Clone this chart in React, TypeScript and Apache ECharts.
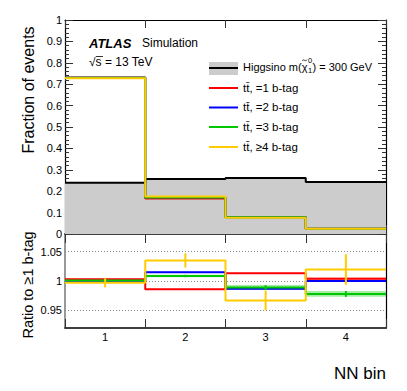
import React, { useEffect, useRef } from 'react';
import * as echarts from 'echarts';

// ---- data ----
const binEdges = [0, 1, 2, 3, 4];
const binLabels = ['1', '2', '3', '4'];
const higgsino = [0.240, 0.257, 0.262, 0.243];
const tt1 = [0.731, 0.166, 0.080, 0.025];
const tt2 = [0.730, 0.172, 0.078, 0.025];
const tt3 = [0.730, 0.171, 0.078, 0.024];
const tt4 = [0.728, 0.175, 0.076, 0.025];
const ratio1 = [1.003, 0.986, 1.013, 1.004];
const ratio1Err = [0.001, 0.001, 0.001, 0.002];
const ratio2 = [1.0, 1.015, 0.987, 1.0];
const ratio2Err = [0.001, 0.001, 0.001, 0.001];
const ratio3 = [1.001, 1.0085, 0.989, 0.978];
const ratio3Err = [0.002, 0.002, 0.004, 0.005];
const ratio4 = [0.997, 1.035, 0.967, 1.0195];
const ratio4Err = [0.008, 0.012, 0.017, 0.026];
const ratioTickValues = [0.95, 1, 1.05];
const ratioTickLabels = ['0.95', '1', '1.05'];
const legendLabels = ['tt\u0304, =1 b-tag', 'tt\u0304, =2 b-tag', 'tt\u0304, =3 b-tag', 'tt\u0304, \u22654 b-tag'];
const colors = ['#ff0000', '#0000ff', '#00c800', '#ffcc00'];
const bandColors = ['rgba(255,0,0,0.35)', 'rgba(0,0,255,0.3)', 'rgba(0,200,0,0.35)', 'rgba(255,204,0,0.3)'];

const FONT = '"Liberation Sans", Arial, Helvetica, sans-serif';

function steps(vals: number[]) {
  const pts: number[][] = [];
  vals.forEach((v, i) => {
    pts.push([binEdges[i], v]);
    pts.push([binEdges[i + 1], v]);
  });
  return pts;
}

function measure(text: string, font: string) {
  const c = document.createElement('canvas').getContext('2d');
  if (!c) return text.length * 6;
  c.font = font;
  return c.measureText(text).width;
}

export default function App() {
  const ref = useRef<HTMLDivElement>(null);
  useEffect(() => {
    if (!ref.current) return;
    const chart = echarts.init(ref.current, undefined, { renderer: 'svg' });
    const GL = 65, GT = 20, GW = 321, GH0 = 214, GH1 = 94;

    const tickStyle = { color: '#333', width: 1 };
    const topTtSeries = [tt1, tt2, tt3, tt4].map((vals, k) => ({
      type: 'line', xAxisIndex: 0, yAxisIndex: 0, data: steps(vals), showSymbol: false,
      lineStyle: { color: colors[k], width: 2 }, z: 3 + k, silent: true,
    }));
    const ratioVals = [ratio1, ratio2, ratio3, ratio4];
    const ratioErrs = [ratio1Err, ratio2Err, ratio3Err, ratio4Err];
    const ratioLines = ratioVals.map((vals, k) => ({
      type: 'line', xAxisIndex: 2, yAxisIndex: 2, data: steps(vals), showSymbol: false,
      lineStyle: { color: colors[k], width: 2 }, z: 5 + k, silent: true,
    }));
    const bands = [0, 1, 2].map((k) => ({
      type: 'custom', xAxisIndex: 2, yAxisIndex: 2, z: 3, silent: true,
      data: ratioVals[k].map((v, i) => [binEdges[i], v, ratioErrs[k][i]]),
      encode: { x: 0, y: 1 },
      renderItem: (params: any, api: any) => {
        const i = api.value(0), v = api.value(1), e = api.value(2);
        const p1 = api.coord([i, v + e]);
        const p2 = api.coord([i + 1, v - e]);
        return { type: 'rect', shape: { x: p1[0], y: p1[1], width: p2[0] - p1[0], height: p2[1] - p1[1] }, style: { fill: bandColors[k] } };
      },
    }));
    const errBars = [2, 3].map((k) => ({
      type: 'custom', xAxisIndex: 2, yAxisIndex: 2, z: 10 + k, silent: true,
      data: ratioVals[k].map((v, i) => [binEdges[i], v, ratioErrs[k][i]]),
      encode: { x: 0, y: 1 },
      renderItem: (params: any, api: any) => {
        const i = api.value(0), v = api.value(1), e = api.value(2);
        const a = api.coord([i + 0.5, v + e]);
        const b = api.coord([i + 0.5, v - e]);
        return { type: 'line', shape: { x1: a[0], y1: a[1], x2: b[0], y2: b[1] }, style: { stroke: colors[k], lineWidth: 2 } };
      },
    }));

    // legend
    const LX0 = 209, LX1 = 238, TX = 243;
    const rows = [68, 88, 107.5, 127, 147];
    const legFont = '11.5px ' + FONT;
    const higFont = '11px ' + FONT;
    const part1 = 'Higgsino m(\u03C7';
    const w1 = measure(part1, higFont);
    const wChi = measure('\u03C7', higFont);
    const tx0 = TX + w1 - wChi + 0.5;
    const tx1 = TX + w1 - 0.5;
    const ty = rows[0] - 8;
    const graphics: any[] = [
      { type: 'text', x: 89, y: 43, style: { text: 'ATLAS', font: 'italic bold 13px ' + FONT, fill: '#000', textVerticalAlign: 'middle' } },
      { type: 'text', x: 142, y: 43, style: { text: 'Simulation', font: '12px ' + FONT, fill: '#000', textVerticalAlign: 'middle' } },
      { type: 'text', x: 89, y: 62, style: { text: '\u221As = 13 TeV', font: '12px ' + FONT, fill: '#000', textVerticalAlign: 'middle' } },
      { type: 'line', shape: { x1: 96, y1: 56.5, x2: 103, y2: 56.5 }, style: { stroke: '#000', lineWidth: 0.8 } },
      { type: 'rect', shape: { x: LX0, y: 62, width: LX1 - LX0, height: 13 }, style: { fill: '#cccccc' } },
      { type: 'line', shape: { x1: LX0, y1: rows[0], x2: LX1, y2: rows[0] }, style: { stroke: '#000', lineWidth: 2 } },
      { type: 'text', x: TX, y: rows[0] - 1, style: { text: part1, font: higFont, fill: '#000', textVerticalAlign: 'middle' } },
      { type: 'bezierCurve', shape: { x1: tx0, y1: ty + 0.8, cpx1: tx0 + (tx1 - tx0) * 0.35, cpy1: ty - 1.8, cpx2: tx0 + (tx1 - tx0) * 0.65, cpy2: ty + 2.6, x2: tx1, y2: ty - 0.4 },
        style: { stroke: '#000', lineWidth: 0.8, fill: 'none' } },
      { type: 'text', x: TX + w1 + 0.5, y: rows[0] - 8, style: { text: '0', font: '7.5px ' + FONT, fill: '#000', textVerticalAlign: 'middle' } },
      { type: 'text', x: TX + w1 + 0.5, y: rows[0] + 2, style: { text: '1', font: '7.5px ' + FONT, fill: '#000', textVerticalAlign: 'middle' } },
      { type: 'text', x: TX + w1 + 5, y: rows[0] - 1, style: { text: ') = 300 GeV', font: higFont, fill: '#000', textVerticalAlign: 'middle' } },
      { type: 'text', x: 28, y: 90, rotation: Math.PI / 2, style: { text: 'Fraction of events', font: '16px ' + FONT, fill: '#000', textAlign: 'center', textVerticalAlign: 'middle' } },
      { type: 'text', x: 28, y: 285, rotation: Math.PI / 2, style: { text: 'Ratio to \u22651 b-tag', font: '14.5px ' + FONT, fill: '#000', textAlign: 'center', textVerticalAlign: 'middle' } },
      { type: 'text', x: 386, y: 373, style: { text: 'NN bin', font: '17px ' + FONT, fill: '#000', textAlign: 'right', textVerticalAlign: 'middle' } },
    ];
    legendLabels.forEach((lab, k) => {
      graphics.push({ type: 'line', shape: { x1: LX0, y1: rows[k + 1], x2: LX1, y2: rows[k + 1] }, style: { stroke: colors[k], lineWidth: 2 } });
      graphics.push({ type: 'text', x: TX, y: rows[k + 1] - 0.5, style: { text: lab, font: legFont, fill: '#000', textVerticalAlign: 'middle' } });
    });

    const option: any = {
      animation: false,
      backgroundColor: '#fff',
      textStyle: { fontFamily: FONT },
      grid: [
        { left: GL, top: GT, width: GW, height: GH0, outerBoundsMode: 'none', containLabel: false },
        { left: GL, top: GT + GH0, width: GW, height: GH1, outerBoundsMode: 'none', containLabel: false },
      ],
      xAxis: [
        { type: 'value', gridIndex: 0, position: 'bottom', min: 0, max: 4, interval: 1,
          axisLine: { show: true, onZero: false, lineStyle: { color: '#000', width: 1.5 } },
          axisTick: { show: true, inside: true, length: 9, lineStyle: tickStyle },
          axisLabel: { show: false }, splitLine: { show: false } },
        { type: 'value', gridIndex: 0, position: 'top', min: 0, max: 4, interval: 1,
          axisLine: { show: true, onZero: false, lineStyle: { color: '#000', width: 1.2 } },
          axisTick: { show: true, inside: true, length: 8, lineStyle: tickStyle },
          axisLabel: { show: false }, splitLine: { show: false } },
        { type: 'value', gridIndex: 1, position: 'bottom', min: 0, max: 4, interval: 1,
          axisLine: { show: true, onZero: false, lineStyle: { color: '#000', width: 1.5 } },
          axisTick: { show: true, inside: true, length: 9, lineStyle: tickStyle },
          axisLabel: { show: false }, splitLine: { show: false } },
        { type: 'value', gridIndex: 1, position: 'top', min: 0, max: 4, interval: 1,
          axisLine: { show: false, onZero: false },
          axisTick: { show: true, inside: true, length: 9, lineStyle: tickStyle },
          axisLabel: { show: false }, splitLine: { show: false } },
        { type: 'category', gridIndex: 1, position: 'bottom', data: binLabels, boundaryGap: true,
          axisLine: { show: false }, axisTick: { show: false }, splitLine: { show: false },
          axisLabel: { show: true, color: '#000', fontSize: 11, margin: 3, fontFamily: FONT } },
      ],
      yAxis: [
        { type: 'value', gridIndex: 0, position: 'left', min: 0, max: 1, interval: 0.1,
          axisLine: { show: true, onZero: false, lineStyle: { color: '#000', width: 1.2 } },
          axisTick: { show: true, inside: true, length: 8, lineStyle: tickStyle },
          minorTick: { show: true, splitNumber: 5, length: 4, lineStyle: tickStyle },
          axisLabel: { show: true, color: '#000', fontSize: 11, margin: 3, fontFamily: FONT,
            formatter: (v: number) => { const r = Math.round(v * 10); return r === 0 ? '0' : r === 10 ? '1' : (r / 10).toFixed(1); } },
          splitLine: { show: false } },
        { type: 'value', gridIndex: 0, position: 'right', min: 0, max: 1, interval: 0.1,
          axisLine: { show: true, onZero: false, lineStyle: { color: '#000', width: 1.2 } },
          axisTick: { show: true, inside: true, length: 8, lineStyle: tickStyle },
          minorTick: { show: true, splitNumber: 5, length: 4, lineStyle: tickStyle },
          axisLabel: { show: false }, splitLine: { show: false } },
        { type: 'value', gridIndex: 1, position: 'left', min: 0.92, max: 1.08, interval: 0.01,
          axisLine: { show: true, onZero: false, lineStyle: { color: '#777', width: 1.5 } },
          axisTick: { show: false },
          axisLabel: { show: true, color: '#000', fontSize: 11, margin: 3, fontFamily: FONT,
            formatter: (v: number) => { const idx = ratioTickValues.findIndex((t) => Math.abs(t - v) < 1e-6); return idx >= 0 ? ratioTickLabels[idx] : ''; } },
          splitLine: { show: false } },
        { type: 'value', gridIndex: 1, position: 'right', min: 0.92, max: 1.08, interval: 0.01,
          axisLine: { show: true, onZero: false, lineStyle: { color: '#000', width: 1.2 } },
          axisTick: { show: false }, axisLabel: { show: false }, splitLine: { show: false } },
      ],
      graphic: graphics,
      series: [
        { type: 'line', xAxisIndex: 0, yAxisIndex: 0, data: steps(higgsino), showSymbol: false, silent: true,
          lineStyle: { color: '#000', width: 2 }, areaStyle: { color: '#cccccc', opacity: 1, origin: 0 }, z: 2 },
        ...topTtSeries,
        { type: 'line', xAxisIndex: 2, yAxisIndex: 2, data: [], showSymbol: false, silent: true, z: 1,
          markLine: { silent: true, symbol: 'none', label: { show: false },
            lineStyle: { color: '#888', type: [1, 2], width: 1 },
            data: ratioTickValues.map((v) => ({ yAxis: v })) } },
        ...bands,
        ...ratioLines,
        ...errBars,
      ],
    };
    chart.setOption(option);
    return () => chart.dispose();
  }, []);
  return <div ref={ref} style={{ position: 'fixed', left: 0, top: 0, width: 407, height: 391 }} />;
}
